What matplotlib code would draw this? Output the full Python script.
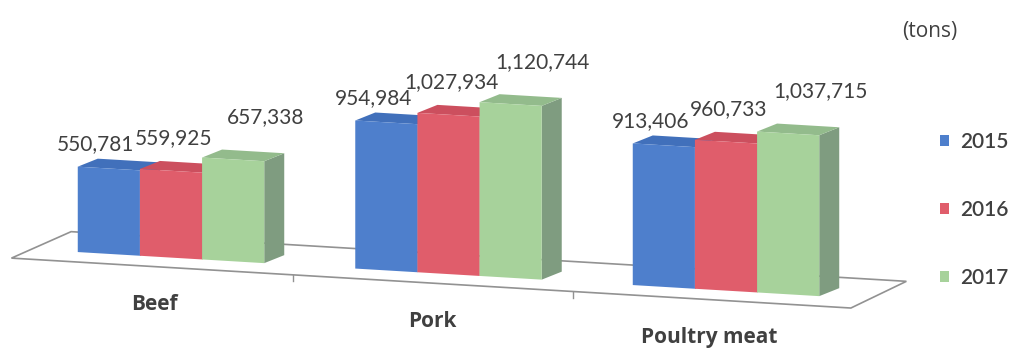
import matplotlib.pyplot as plt
from matplotlib.patches import Polygon, Patch

categories = ['Beef', 'Pork', 'Poultry meat']
years = ['2015', '2016', '2017']
tons_2015 = [550781, 954984, 913406]
tons_2016 = [559925, 1027934, 960733]
tons_2017 = [657338, 1120744, 1037715]
series = [tons_2015, tons_2016, tons_2017]

# colours per series: front, top, side
front_cols = ['#4e7fcc', '#e05d6b', '#a7d29b']
top_cols = ['#4170bb', '#cc4f5e', '#93bb8c']
side_cols = ['#3b64a8', '#b94a59', '#7f9c80']
text_col = '#404040'

plt.rcParams['font.family'] = ['Lato', 'DejaVu Sans']

# screen scale: one category unit ~ 277.5 px, one px ~ 6450 t
PX = 277.5
TPX = 6450.0
DROP = 16.5 * TPX        # floor falls to the right
BAR_W = 0.224
DX = 20 / PX             # depth of each box
DY = 8 * TPX


def pt(x, y):
    # shear so the floor runs downhill
    return (x, y - DROP * x)


def back(p):
    return (p[0] + DX, p[1] + DY)


fig = plt.figure(figsize=(10.16, 3.5), dpi=100)
ax = fig.add_axes([0, 0, 1, 1])
ax.set_xlim(-171 / PX, (1016 - 171) / PX)
ax.set_ylim(-(350 - 257.6) * TPX, 257.6 * TPX)
ax.axis('off')

# floor plane
fl = [pt(-0.575, -10 * TPX), pt(2.45, -10 * TPX),
      pt(2.65, 20 * TPX), pt(-0.36, 20 * TPX)]
ax.add_patch(Polygon(fl, closed=True, facecolor='white',
                     edgecolor='#929292', lw=1.2, zorder=1))
for tx in [0.44, 1.45]:
    x0, y0 = pt(tx, -10 * TPX)
    ax.plot([x0, x0], [y0, y0 - 6 * TPX], color='#929292', lw=1, zorder=1)

# boxes
label_off = [(-13, 24), (3, 33), (32, 42)]
for i in range(len(categories)):
    for j, vals in enumerate(series):
        h = vals[i]
        l = i + (j - 1.5) * BAR_W
        r = l + BAR_W
        fbl, fbr, ftr, ftl = pt(l, 0), pt(r, 0), pt(r, h), pt(l, h)
        z = 2 + j
        ax.add_patch(Polygon([fbr, back(fbr), back(ftr), ftr],
                             facecolor=side_cols[j], edgecolor='none', zorder=z))
        ax.add_patch(Polygon([ftl, ftr, back(ftr), back(ftl)],
                             facecolor=top_cols[j], edgecolor='none', zorder=z))
        ax.add_patch(Polygon([fbl, fbr, ftr, ftl],
                             facecolor=front_cols[j], edgecolor='none', zorder=z))
        cx, cy = pt((l + r) / 2, h)
        ox, oy = label_off[j]
        ax.text(cx + ox / PX, cy + oy * TPX, f'{h:,}', ha='center', va='center',
                fontsize=15, color=text_col, zorder=10)

    lx, ly = pt(i - 0.06, 0)
    ax.text(lx, ly - 48 * TPX, categories[i], ha='center', va='center',
            fontsize=15, fontweight='bold', color=text_col,
            family=['Open Sans', 'DejaVu Sans'])

ax.text(929.5 / 1016, 1 - 31 / 350, '(tons)', transform=ax.transAxes,
        ha='center', va='center', fontsize=15, color=text_col,
        family=['Open Sans', 'DejaVu Sans'])

handles = [Patch(facecolor=c, edgecolor='none') for c in front_cols]
fig.legend(handles, years, loc='upper left', bbox_to_anchor=(940 / 1016, 1 - 132 / 350),
           frameon=False, borderpad=0, borderaxespad=0,
           handlelength=0.45, handleheight=0.45,
           handletextpad=0.5, labelspacing=2.3,
           prop={'size': 15, 'weight': 'semibold'}, labelcolor=text_col)

fig.savefig('out.png', dpi=100)
